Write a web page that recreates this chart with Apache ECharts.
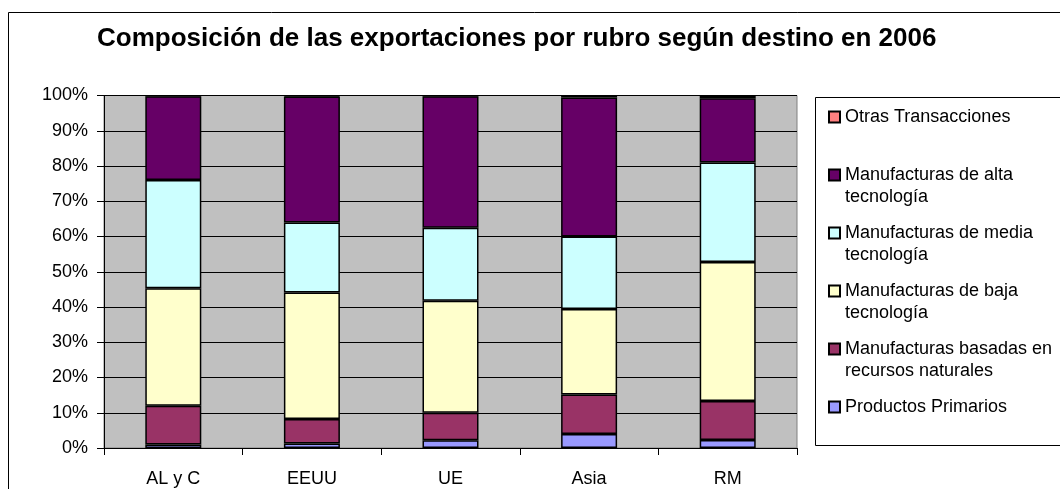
<!DOCTYPE html>
<html>
<head>
<meta charset="utf-8">
<script src="https://cdn.jsdelivr.net/npm/echarts@6/dist/echarts.min.js"></script>
<style>
  html, body { margin: 0; padding: 0; background: #fff; }
  #chart { width: 1060px; height: 489px; }
</style>
</head>
<body>
<div id="chart"></div>
<script>
// destinos
const destinos = ['AL y C', 'EEUU', 'UE', 'Asia', 'RM'];

// participación (%) de cada rubro
const primarios  = [1.0, 1.3, 2.2, 4.0, 2.3];
const basadasRRNN = [11.0, 6.9, 7.8, 11.2, 11.0];
const bajaTec    = [33.3, 35.9, 31.8, 24.2, 39.5];
const mediaTec   = [30.7, 19.9, 20.7, 20.6, 28.2];
const altaTec    = [23.8, 35.7, 37.3, 39.4, 18.2];
const otras      = [0.2, 0.3, 0.2, 0.6, 0.8];

const yTicks = [0, 10, 20, 30, 40, 50, 60, 70, 80, 90, 100];

const font = 'Liberation Sans, Arial, sans-serif';

// nombre de serie -> texto de leyenda (línea vacía arriba para alinear el icono con la 1a línea)
const legendText = {
    'Otras Transacciones': '\nOtras Transacciones\n',
    'Manufacturas de alta tecnología': '\nManufacturas de alta\ntecnología',
    'Manufacturas de media tecnología': '\nManufacturas de media\ntecnología',
    'Manufacturas de baja tecnología': '\nManufacturas de baja\ntecnología',
    'Manufacturas basadas en recursos naturales': '\nManufacturas basadas en\nrecursos naturales',
    'Productos Primarios': '\nProductos Primarios\n'
};

const seriesDef = [
    { name: 'Productos Primarios', data: primarios, color: '#9999FF' },
    { name: 'Manufacturas basadas en recursos naturales', data: basadasRRNN, color: '#993366' },
    { name: 'Manufacturas de baja tecnología', data: bajaTec, color: '#FFFFCC' },
    { name: 'Manufacturas de media tecnología', data: mediaTec, color: '#CCFFFF' },
    { name: 'Manufacturas de alta tecnología', data: altaTec, color: '#660066' },
    { name: 'Otras Transacciones', data: otras, color: '#FF8080' }
];

const chart = echarts.init(document.getElementById('chart'));

chart.setOption({
    animation: false,
    textStyle: { fontFamily: font },
    title: {
        text: 'Composición de las exportaciones por rubro según destino en 2006',
        left: 97,
        top: 26,
        padding: 0,
        textStyle: { fontFamily: font, fontSize: 26, fontWeight: 'bold', color: '#000' }
    },
    graphic: [
        // marco exterior del gráfico
        { type: 'rect', shape: { x: 8.5, y: 12.5, width: 1070, height: 500 },
          style: { fill: 'none', stroke: '#000', lineWidth: 1 }, z: -1 },
        // marco de la leyenda
        { type: 'rect', shape: { x: 815.5, y: 97.5, width: 260, height: 348 },
          style: { fill: '#fff', stroke: '#000', lineWidth: 1 }, z: -1 }
    ],
    legend: {
        orient: 'vertical',
        left: 828,
        top: 84,
        padding: 0,
        itemGap: -8,
        itemWidth: 11,
        itemHeight: 11,
        icon: 'rect',
        data: seriesDef.map(s => s.name).reverse(),
        formatter: name => legendText[name],
        textStyle: { fontFamily: font, fontSize: 18, lineHeight: 22, color: '#000' },
        selectedMode: false
    },
    grid: {
        left: 104,
        right: 263,
        top: 95.5,
        bottom: 41,
        show: true,
        backgroundColor: '#C0C0C0',
        borderColor: '#808080',
        borderWidth: 1
    },
    xAxis: {
        type: 'category',
        data: destinos,
        axisLine: { lineStyle: { color: '#000', width: 1 } },
        axisTick: { show: true, length: 7, lineStyle: { color: '#000' } },
        axisLabel: { fontFamily: font, fontSize: 18, color: '#000', margin: 22 }
    },
    yAxis: {
        type: 'value',
        min: yTicks[0],
        max: yTicks[yTicks.length - 1],
        interval: 10,
        axisLine: { show: true, lineStyle: { color: '#000', width: 1 } },
        axisTick: { show: true, length: 7, lineStyle: { color: '#000' } },
        axisLabel: { fontFamily: font, fontSize: 18, color: '#000', margin: 16, formatter: '{value}%' },
        splitLine: { show: true, lineStyle: { color: '#000', width: 1 } }
    },
    series: seriesDef.map(s => ({
        name: s.name,
        type: 'bar',
        stack: 'total',
        data: s.data,
        barWidth: 56,
        itemStyle: { color: s.color, borderColor: '#000', borderWidth: 1.5 }
    }))
});
</script>
</body>
</html>
